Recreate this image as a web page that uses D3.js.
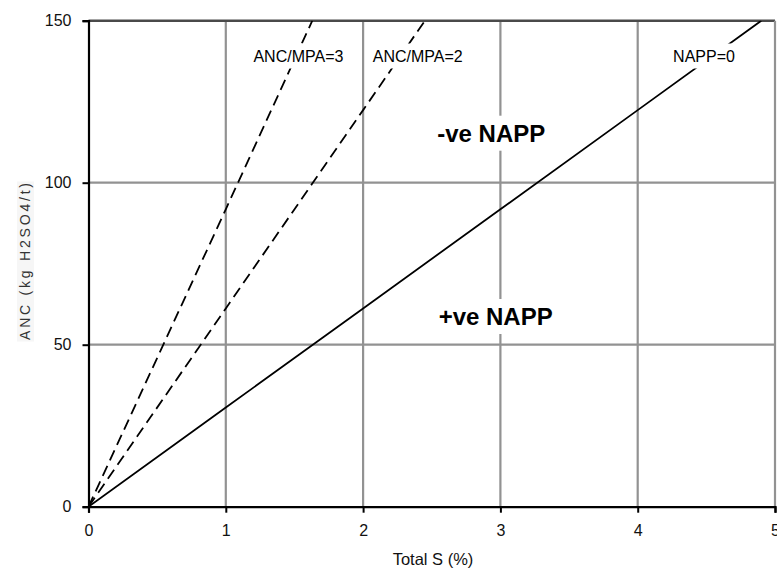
<!DOCTYPE html>
<html>
<head>
<meta charset="utf-8">
<script src="https://cdn.jsdelivr.net/npm/d3@7"></script>
<style>
  html, body { margin: 0; padding: 0; background: #fff; }
  svg { display: block; font-family: "Liberation Sans", Arial, sans-serif; }
</style>
</head>
<body>
<svg id="chart" width="777" height="568"></svg>
<script>
// Axis ticks
const sTicks = [0, 1, 2, 3, 4, 5];
const ancTicks = [0, 50, 100, 150];

// NAPP = 0 boundary (ANC equals MPA)
const nappZeroS   = [0, 1, 2, 3, 4, 4.9];
const nappZeroANC = [0, 30.6, 61.2, 91.8, 122.4, 150];

// ANC/MPA = 2
const ratio2S   = [0, 1, 2, 2.45];
const ratio2ANC = [0, 61.2, 122.4, 150];

// ANC/MPA = 3
const ratio3S   = [0, 1, 1.63];
const ratio3ANC = [0, 91.8, 150];

const lineLabels = ["NAPP=0", "ANC/MPA=2", "ANC/MPA=3"];
const regionLabels = ["-ve NAPP", "+ve NAPP"];

const svg = d3.select("#chart");
const plotL = 88.5, plotR = 775, plotT = 20.7, plotB = 506.7;

const x = d3.scaleLinear().domain([0, 5]).range([plotL, plotR]);
const y = d3.scaleLinear().domain([0, 150]).range([plotB, plotT]);

// Grid lines
const grid = svg.append("g").attr("stroke", "#929292").attr("stroke-width", 2.2);
sTicks.filter(d => d > 0 && d < 5).forEach(d => {
  grid.append("line").attr("x1", x(d)).attr("x2", x(d)).attr("y1", plotT).attr("y2", plotB);
});
ancTicks.filter(d => d > 0 && d < 150).forEach(d => {
  grid.append("line").attr("x1", plotL).attr("x2", plotR).attr("y1", y(d)).attr("y2", y(d));
});

// Plot frame: top and right edges
svg.append("line").attr("x1", plotL).attr("x2", plotR).attr("y1", plotT).attr("y2", plotT)
  .attr("stroke", "#4a4a4a").attr("stroke-width", 2.6);
svg.append("line").attr("x1", plotR).attr("x2", plotR).attr("y1", plotT).attr("y2", plotB)
  .attr("stroke", "#929292").attr("stroke-width", 2.2);

// Reference lines
svg.append("clipPath").attr("id", "plotclip")
  .append("rect").attr("x", plotL).attr("y", plotT).attr("width", plotR - plotL).attr("height", plotB - plotT);

const lineGen = d3.line().x(d => x(d[0])).y(d => y(d[1]));
const series = [
  { name: lineLabels[0], pts: d3.zip(nappZeroS, nappZeroANC), dash: null },
  { name: lineLabels[1], pts: d3.zip(ratio2S, ratio2ANC), dash: "11,6" },
  { name: lineLabels[2], pts: d3.zip(ratio3S, ratio3ANC), dash: "11,6" }
];
const lines = svg.append("g").attr("clip-path", "url(#plotclip)");
series.forEach(s => {
  lines.append("path").attr("d", lineGen(s.pts))
    .attr("fill", "none").attr("stroke", "#000").attr("stroke-width", 1.8)
    .attr("stroke-dasharray", s.dash);
});

// Labels on white boxes
function boxedLabel(txt, cx, baseline, size, weight, pad) {
  const g = svg.append("g");
  const t = g.append("text").attr("x", cx).attr("y", baseline)
    .attr("text-anchor", "middle").attr("font-size", size).attr("font-weight", weight)
    .attr("fill", "#000").text(txt);
  const bb = t.node().getBBox();
  g.insert("rect", "text")
    .attr("x", bb.x - pad[0]).attr("y", bb.y - pad[1])
    .attr("width", bb.width + 2 * pad[0]).attr("height", bb.height + 2 * pad[1])
    .attr("fill", "#fff");
}
boxedLabel(lineLabels[2], 298.4, 61.5, 16, "normal", [3, 4]);
boxedLabel(lineLabels[1], 417.8, 61.5, 16, "normal", [3, 4]);
boxedLabel(lineLabels[0], 704, 61.5, 16, "normal", [3, 4]);
boxedLabel(regionLabels[0], 491.3, 141.7, 24, "bold", [4, 4]);
boxedLabel(regionLabels[1], 495.7, 325, 24, "bold", [4, 4]);

// Axes
const xAxis = svg.append("g").attr("transform", `translate(0,${plotB})`)
  .call(d3.axisBottom(x).tickValues(sTicks).tickSize(6).tickPadding(12).tickFormat(d3.format("d")));
const yAxis = svg.append("g").attr("transform", `translate(${plotL},0)`)
  .call(d3.axisLeft(y).tickValues(ancTicks).tickSize(6).tickPadding(11).tickFormat(d3.format("d")));
[xAxis, yAxis].forEach(a => {
  a.select(".domain").attr("stroke", "#000").attr("stroke-width", 2.2);
  a.selectAll(".tick line").attr("stroke", "#000").attr("stroke-width", 2);
  a.selectAll(".tick text").attr("font-size", 16).attr("fill", "#111")
    .attr("font-family", "'Liberation Sans', Arial, sans-serif");
});

// Axis titles
svg.append("text").attr("x", 433).attr("y", 565)
  .attr("text-anchor", "middle").attr("font-size", 16.5).attr("fill", "#111")
  .text("Total S (%)");

const yTitle = svg.append("g").attr("transform", "translate(29.5,261.5) rotate(-90)");
yTitle.append("rect").attr("x", -80).attr("y", -12.5).attr("width", 160).attr("height", 17)
  .attr("fill", "#f6f6f6");
yTitle.append("text").attr("x", 0).attr("y", 0).attr("text-anchor", "middle")
  .attr("font-size", 14).attr("fill", "#333")
  .attr("textLength", 157).attr("lengthAdjust", "spacing")
  .text("ANC (kg H2SO4/t)");
</script>
</body>
</html>
